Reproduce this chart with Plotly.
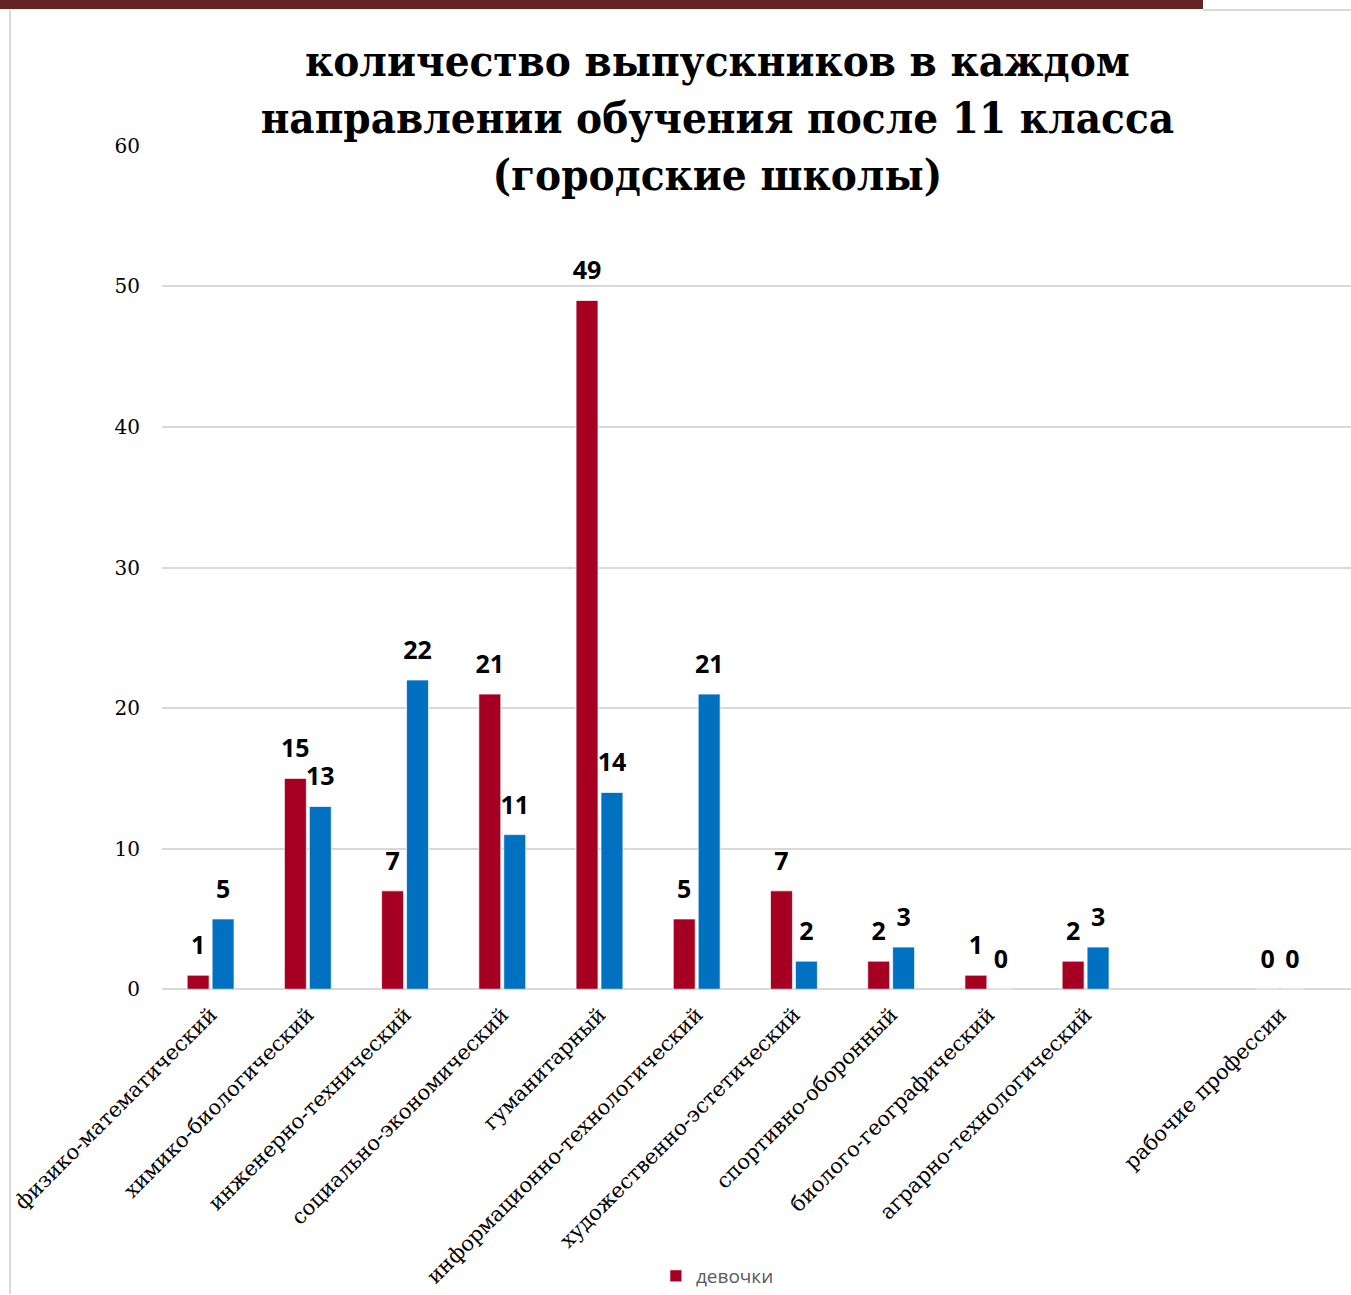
import plotly.graph_objects as go

categories = [
    "физико-математический", "химико-биологический", "инженерно-технический",
    "социально-экономический", "гуманитарный", "информационно-технологический",
    "художественно-эстетический", "спортивно-оборонный", "биолого-географический",
    "аграрно-технологический", "", "рабочие профессии", "сфера услуг",
]
girls = [1, 15, 7, 21, 49, 5, 7, 2, 1, 2, None, 0, None]
boys = [5, 13, 22, 11, 14, 21, 2, 3, 0, 3, None, 0, None]
y_ticks = [0, 10, 20, 30, 40, 50, 60]

title_text = ("количество выпускников в каждом<br>направлении обучения после 11 класса"
              "<br>(городские школы)")

RED = "#A50021"
BLUE = "#0070C0"
x = list(range(len(categories)))

fig = go.Figure()
fig.add_trace(go.Bar(x=x, y=girls, name="девочки", marker_color=RED,
                     marker_line=dict(color="rgba(255,255,255,0.7)", width=1)))
fig.add_trace(go.Bar(x=x, y=boys, name="мальчики", marker_color=BLUE, showlegend=False,
                     marker_line=dict(color="rgba(255,255,255,0.7)", width=1)))

label_font = dict(family="Open Sans", size=25, color="#000000", weight="bold")
for vals in (girls, boys):
    fig.add_trace(go.Scatter(
        x=x, y=vals, mode="markers+text",
        text=[("" if v is None else str(v)) for v in vals],
        textposition="top center", textfont=label_font,
        marker=dict(size=22, opacity=0), showlegend=False, hoverinfo="skip",
        cliponaxis=False,
    ))

fig.update_layout(
    width=1351, height=1295,
    margin=dict(l=0, r=0, t=0, b=0),
    paper_bgcolor="white", plot_bgcolor="white",
    barmode="group", bargap=0.487, bargroupgap=0.12,
    scattermode="group",
    title=dict(text=title_text, x=0.531, xanchor="center", y=0.941, yanchor="middle",
               font=dict(family="DejaVu Serif Condensed, DejaVu Serif", size=43.5,
                         color="#000000", weight="bold")),
    legend=dict(orientation="h", x=0.531, xanchor="center", y=0.014, yanchor="middle",
                font=dict(family="Open Sans", size=19, color="#595959"),
                itemwidth=30, bgcolor="rgba(0,0,0,0)"),
    xaxis=dict(domain=[162 / 1351, 1], range=[-0.5, 11.73],
               tickvals=x, ticktext=categories, tickangle=-45,
               tickfont=dict(family="DejaVu Serif", size=21, color="#000000"),
               showgrid=False, zeroline=False, showline=False, ticks="",
               automargin=False, ticklabelstandoff=8),
    yaxis=dict(domain=[305 / 1295, 1 - 146 / 1295], range=[0, 60],
               tickvals=y_ticks, tickfont=dict(family="DejaVu Serif", size=20, color="#000000"),
               showgrid=True, gridcolor="#D9D9D9", gridwidth=2, zeroline=True,
               zerolinecolor="#D9D9D9", zerolinewidth=2, showline=False, ticks="",
               automargin=False, ticklabelstandoff=21),
    shapes=[
        dict(type="rect", xref="paper", yref="paper", x0=0, x1=1203 / 1351,
             y0=1 - 9 / 1295, y1=1, fillcolor="#632523", line_width=0, layer="above"),
        dict(type="line", xref="paper", yref="paper", x0=1203 / 1351, x1=1,
             y0=1 - 10 / 1295, y1=1 - 10 / 1295, line=dict(color="#D9D9D9", width=2)),
        dict(type="line", xref="paper", yref="paper", x0=10 / 1351, x1=10 / 1351,
             y0=0, y1=1 - 10 / 1295, line=dict(color="#D9D9D9", width=2)),
    ],
)

fig.write_html("out.html", config={"displayModeBar": False},
               post_script="document.body.style.margin='0';")
